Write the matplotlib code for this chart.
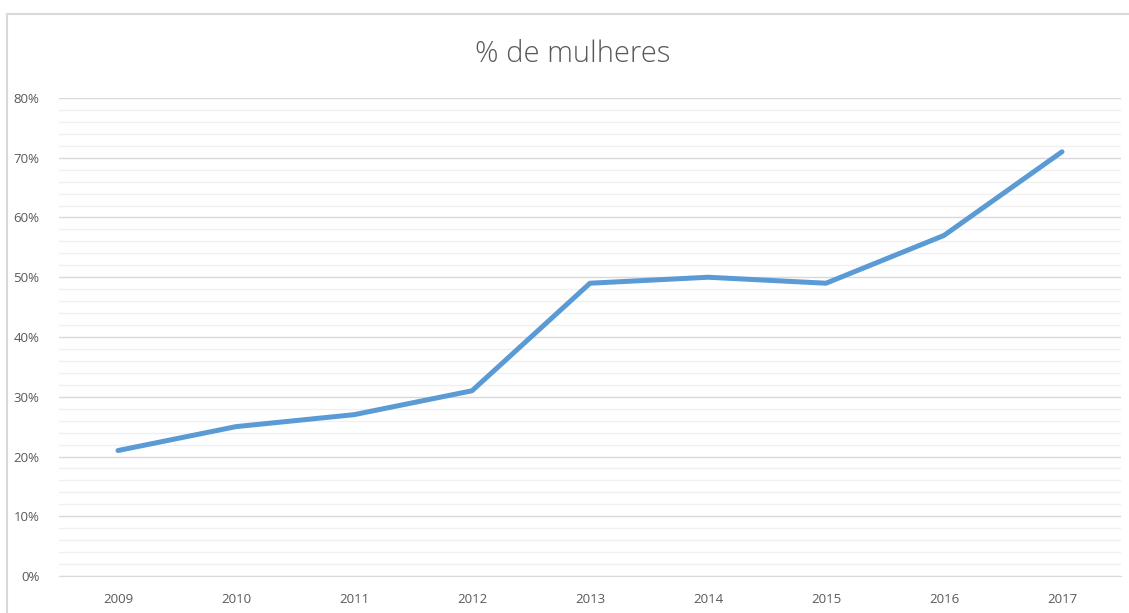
import matplotlib
matplotlib.use("Agg")
import matplotlib.pyplot as plt
from matplotlib.patches import Rectangle
from matplotlib.ticker import MultipleLocator, FuncFormatter

anos = ['2009', '2010', '2011', '2012', '2013', '2014', '2015', '2016', '2017']
mulheres = [0.21, 0.25, 0.27, 0.31, 0.49, 0.50, 0.49, 0.57, 0.71]

W, H = 1129, 613
fig = plt.figure(figsize=(W / 100, H / 100), dpi=100)
plt.rcParams['font.family'] = ['Open Sans', 'DejaVu Sans']

# chart frame (cut off on right/bottom like the screenshot)
fig.patches.append(Rectangle((7 / W, -0.1), 1.2, 1 - 14 / H + 0.1,
                             transform=fig.transFigure, fill=False,
                             edgecolor='#D9D9D9', linewidth=1.5))

ax = fig.add_axes([59 / W, (H - 576) / H, (1121 - 59) / W, (576 - 98) / H])
x = range(len(anos))
ax.plot(x, mulheres, color='#5B9BD5', linewidth=3.6, solid_capstyle='round',
        solid_joinstyle='round', zorder=3)

ax.set_xlim(-0.5, len(anos) - 0.5)
ax.set_ylim(0, 0.8)
ax.set_xticks(list(x))
ax.set_xticklabels(anos)
ax.yaxis.set_major_locator(MultipleLocator(0.1))
ax.yaxis.set_minor_locator(MultipleLocator(0.02))
ax.yaxis.set_major_formatter(FuncFormatter(lambda v, p: f"{v * 100:.0f}%"))
ax.grid(True, which='major', axis='y', color='#D9D9D9', linewidth=1)
ax.grid(True, which='minor', axis='y', color='#F0F0F0', linewidth=1)
ax.set_axisbelow(True)
for s in ['top', 'right', 'left']:
    ax.spines[s].set_visible(False)
ax.spines['bottom'].set_color('#D9D9D9')
ax.tick_params(which='both', length=0, colors='#595959', labelsize=9.5)
ax.tick_params(axis='y', pad=14)
ax.tick_params(axis='x', pad=12)

fig.text(573 / W, 1 - 54 / H, '% de mulheres', ha='center', va='center',
         fontsize=21, color='#595959', fontweight='light')

fig.savefig('out.png', dpi=100)
